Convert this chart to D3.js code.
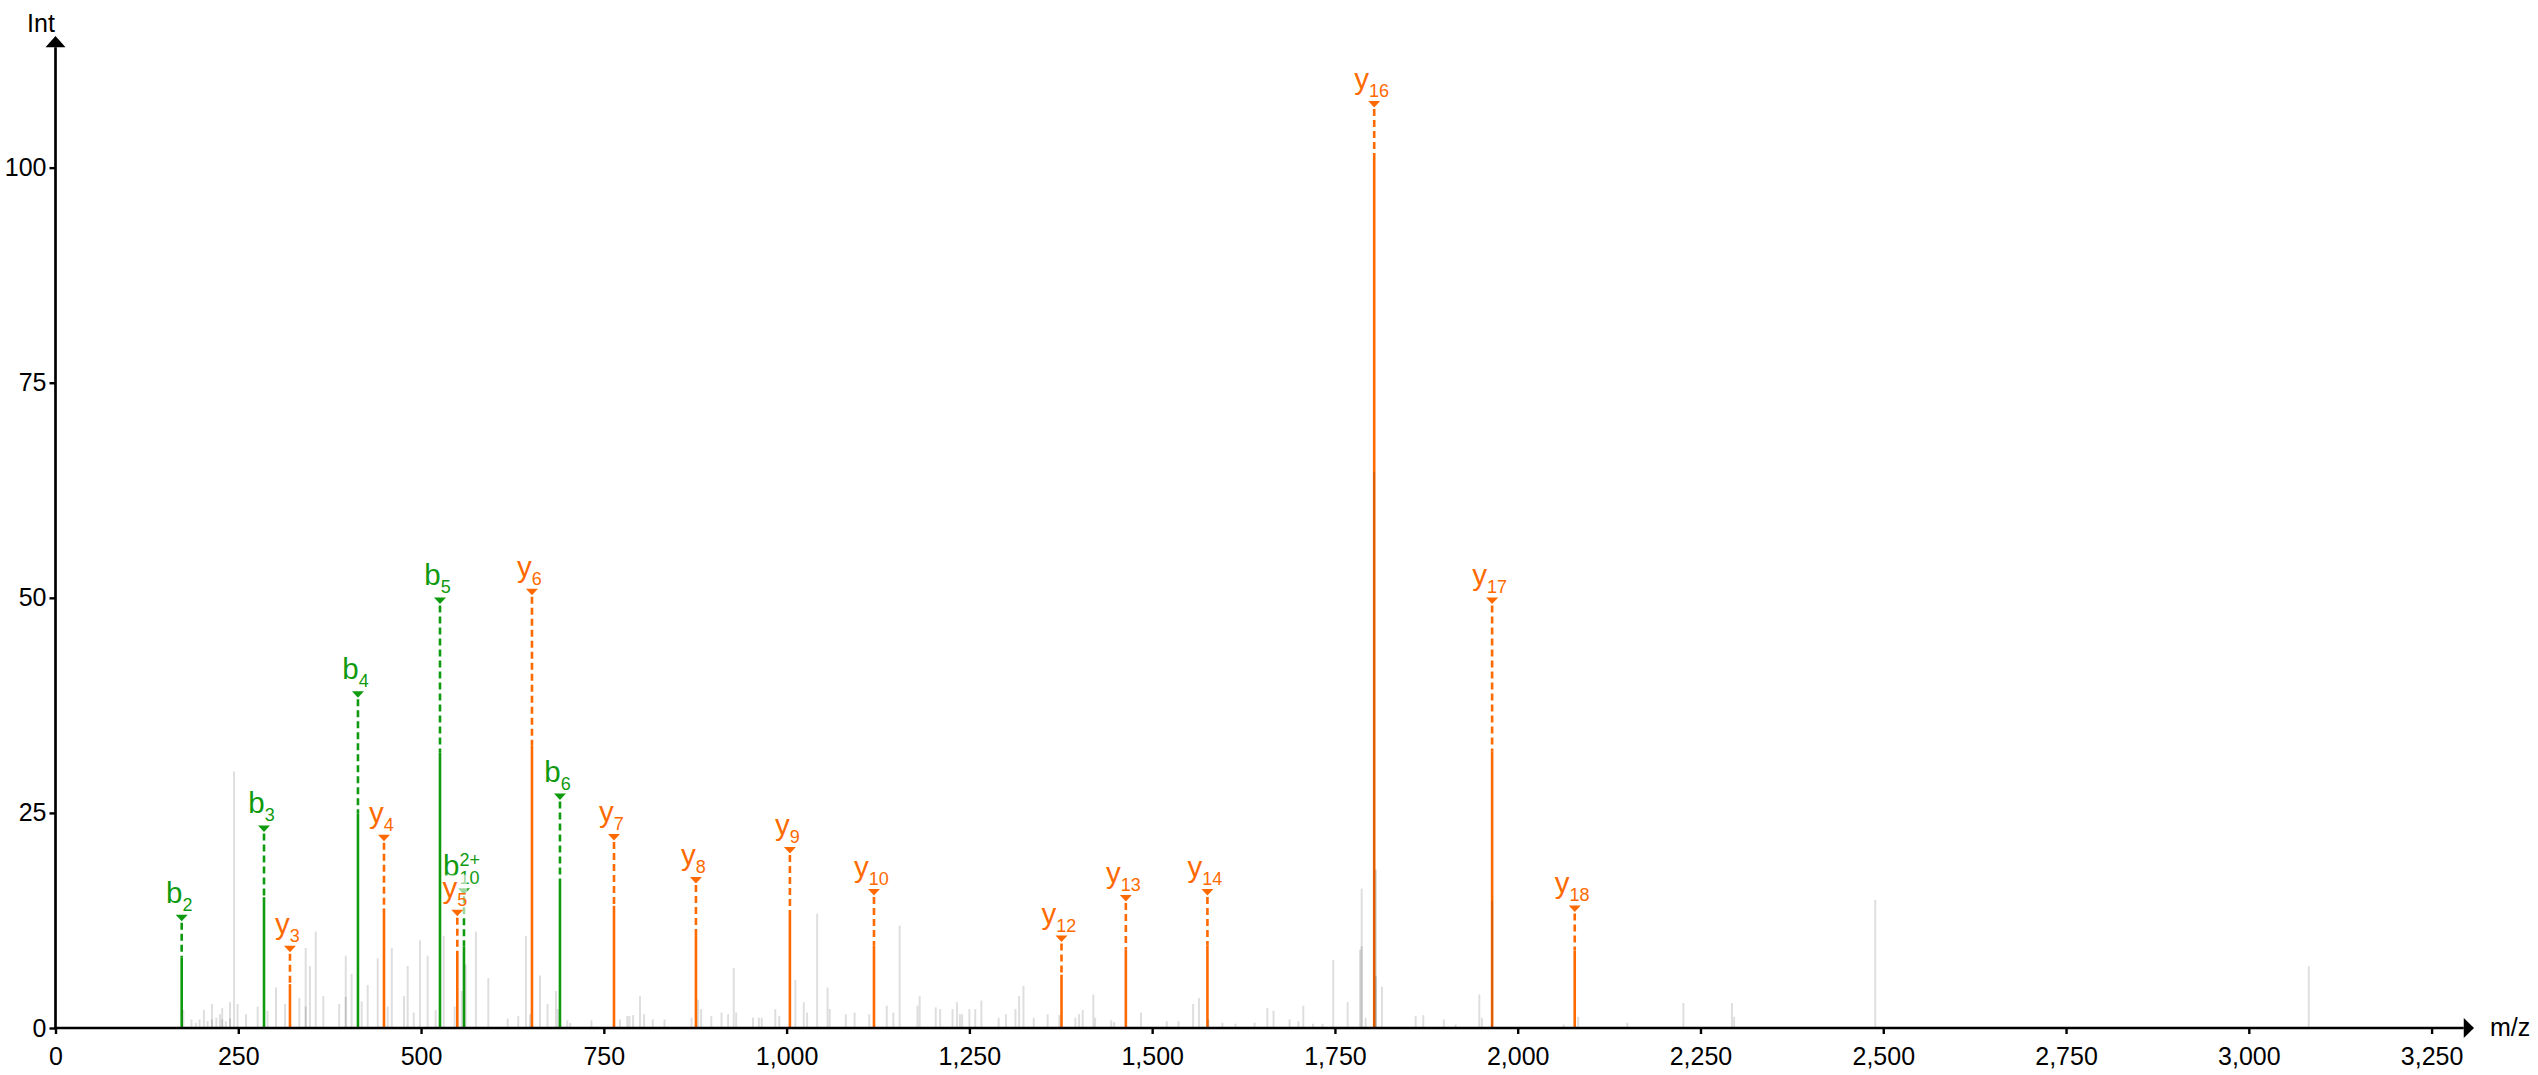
<!DOCTYPE html>
<html>
<head>
<meta charset="utf-8">
<script src="https://cdn.jsdelivr.net/npm/d3@7"></script>
<style>
  html, body { margin: 0; padding: 0; background: #fff; }
  svg { display: block; font-family: "Liberation Sans", Arial, Helvetica, sans-serif; }
</style>
</head>
<body>
<svg id="chart" width="2538" height="1075"></svg>
<script>
// ---------- data ----------
const xTicks = [0, 250, 500, 750, 1000, 1250, 1500, 1750, 2000, 2250, 2500, 2750, 3000, 3250];
const yTicks = [0, 25, 50, 75, 100];
const xAxisMax = 3308;   // m/z where the x axis arrow ends
const yAxisMax = 115.3;  // intensity where the y axis arrow ends
const xTitle = "m/z";
const yTitle = "Int";

// b ions: [ion, number, charge, m/z, intensity, label height]
const bIons = [
  ["b", "2", "", 172.6, 8.2, 12.8],
  ["b", "3", "", 285.2, 15.2, 23.2],
  ["b", "4", "", 413.7, 24.9, 38.8],
  ["b", "5", "", 525.9, 32.0, 49.7],
  ["b", "6", "", 690.0, 17.2, 26.9],
  ["b", "10", "2+", 558.7, 9.5, 15.9]
];
// y ions: [ion, number, charge, m/z, intensity, label height]
const yIons = [
  ["y", "3", "", 320.7, 5.1, 9.2],
  ["y", "4", "", 449.3, 13.9, 22.1],
  ["y", "5", "", 549.6, 8.6, 13.4],
  ["y", "6", "", 651.7, 32.8, 50.7],
  ["y", "7", "", 763.9, 14.2, 22.2],
  ["y", "8", "", 876.0, 10.8, 17.2],
  ["y", "9", "", 1004.5, 12.9, 20.7],
  ["y", "10", "", 1119.5, 9.6, 15.8],
  ["y", "12", "", 1376.0, 6.2, 10.4],
  ["y", "13", "", 1464.0, 9.1, 15.1],
  ["y", "14", "", 1575.6, 9.6, 15.8],
  ["y", "16", "", 1803.7, 101.0, 107.4],
  ["y", "17", "", 1965.0, 32.1, 49.7],
  ["y", "18", "", 2078.0, 9.0, 13.9]
];
// unannotated peaks: [m/z, intensity]
const otherPeaks = [
  [174.9,2.1],[186,1.0],[192,0.6],[197,1.0],[203,2.1],[208,0.8],[214,2.8],[214,1.0],[220,1.2],[225,1.6],[228,2.3],[228,1.0],
  [233,0.8],[238.7,3.0],[238.7,1.1],[244.2,29.8],[249,2.8],[260.6,1.6],[276.5,2.5],[290,2.0],[301.6,4.7],[314,2.8],
  [333.5,3.5],[342.2,9.3],[342.2,2.5],[348,7.2],[355.9,11.2],[366.3,3.7],[388,2.8],[397,8.4],[397,3.6],[405,6.3],
  [418.8,3.1],[427,5.0],[440.7,8.1],[454.4,2.5],[460,9.3],[476.7,3.7],[481.7,7.2],[490,1.8],[498.5,10.2],[509,8.4],
  [520,2.1],[531,10.7],[546,2.5],[555.6,4.3],[561,7.4],[575,11.2],[592,5.8],[618.5,1.1],[633,1.4],[643.5,10.7],
  [649,1.6],[662.7,6.1],[673,2.8],[684.5,4.3],[687,2.2],[700,0.9],[704,0.6],[733,0.9],[772,1.0],[782,1.4],[785,1.4],
  [790,1.5],[799.5,3.7],[805,1.6],[817,1.0],[833,1.0],[870,1.2],[879,3.3],[883,2.2],[897,1.4],[911,1.8],[920,1.6],
  [927.7,7.0],[931,1.8],[954,1.2],[962,1.2],[966,1.2],[984.5,2.2],[990,1.4],[1012,5.6],[1023.5,3.0],[1028,1.8],
  [1041.8,13.3],[1056,4.7],[1059,2.2],[1081,1.6],[1093,1.8],[1113,1.6],[1137,2.6],[1146,1.8],[1154.6,11.9],[1179,2.6],
  [1182,3.7],[1204,2.4],[1210,2.2],[1227,2.2],[1233,3.0],[1237,1.6],[1240,1.6],[1250,2.2],[1258,2.2],[1266.4,3.2],
  [1290,1.2],[1300,1.6],[1313,2.2],[1318,3.7],[1324,4.9],[1338,1.2],[1357,1.6],[1373,1.5],[1395,1.2],[1400,1.6],
  [1405,2.1],[1419.5,3.9],[1422,1.2],[1444,0.9],[1448,0.7],[1484.7,1.8],[1520,0.8],[1536,0.8],[1556,2.8],[1564,3.5],
  [1577,1.0],[1596,0.6],[1614,0.5],[1640,0.6],[1657.5,2.3],[1666,2.0],[1688,1.0],[1700,0.8],[1706.7,2.6],[1720,0.5],
  [1733,0.5],[1747.7,7.9],[1767.4,3.0],[1784.3,9.1],[1786.6,16.2],[1786.6,9.5],[1792,1.2],[1803.7,64.6],[1806.1,18.4],
  [1806.1,6.0],[1814.3,4.8],[1860.4,1.4],[1870.8,1.5],[1899,1.0],[1915,0.4],[1947.5,3.9],[1951,1.2],[1965,14.8],
  [2063,0.4],[2082.7,1.3],[2150,0.6],[2226.6,2.9],[2293,2.9],[2296,1.3],[2489,14.9],[3082,7.2]
];

const bColor = "#109a10";
const yColor = "#ff6a00";

// ---------- drawing ----------
const svg = d3.select("#chart");
const x = d3.scaleLinear().domain([0, xAxisMax]).range([55.5, 2474]);
const y = d3.scaleLinear().domain([0, yAxisMax]).range([1028, 36]);

const peaksLayer = svg.append("g");
const greyLayer = svg.append("g");
const axisLayer = svg.append("g");

function drawIon(d, color) {
  const [ion, num, charge, mz, inten, lab] = d;
  const g = peaksLayer.append("g");
  const px = x(mz);
  const c = y(lab);
  g.append("line")
    .attr("x1", px).attr("x2", px)
    .attr("y1", y(0)).attr("y2", y(inten))
    .attr("stroke", color).attr("stroke-width", 2.6);
  g.append("line")
    .attr("x1", px).attr("x2", px)
    .attr("y1", c + 5).attr("y2", y(inten))
    .attr("stroke", color).attr("stroke-width", 2.6)
    .attr("stroke-dasharray", "7,4");
  const lg = g.append("g");
  const box = lg.append("rect").attr("fill", "#fff").attr("opacity", 0.6);
  lg.append("path")
    .attr("d", `M${px - 6},${c - 3}L${px + 6},${c - 3}L${px},${c + 3.5}Z`)
    .attr("fill", color);
  const base = c - 15;
  const t = lg.append("text").attr("y", base).attr("font-size", 29.5).attr("fill", color).text(ion);
  const wMain = t.node().getComputedTextLength();
  const sub = lg.append("text").attr("y", base + 8).attr("font-size", 18).attr("fill", color).text(num);
  const wSub = sub.node().getComputedTextLength();
  let sup = null, wSup = 0;
  if (charge) {
    sup = lg.append("text").attr("y", base - 10).attr("font-size", 18).attr("fill", color).text(charge);
    wSup = sup.node().getComputedTextLength();
  }
  const total = wMain + Math.max(wSub, wSup);
  const x0 = px - total / 2 - 2.5;
  t.attr("x", x0);
  sub.attr("x", x0 + wMain);
  if (sup) sup.attr("x", x0 + wMain);
  const bb = lg.node().getBBox();
  box.attr("x", bb.x).attr("y", bb.y + 4).attr("width", bb.width).attr("height", bb.height - 4);
}

bIons.forEach(d => drawIon(d, bColor));
yIons.forEach(d => drawIon(d, yColor));

greyLayer.selectAll("line").data(otherPeaks).join("line")
  .attr("x1", d => x(d[0])).attr("x2", d => x(d[0]))
  .attr("y1", y(0)).attr("y2", d => y(d[1]))
  .attr("stroke", "rgba(0,0,0,0.13)").attr("stroke-width", 2);

// x axis
const xAxis = axisLayer.append("g").attr("transform", `translate(0,${y(0)})`)
  .call(d3.axisBottom(x).tickValues(xTicks).tickSize(6).tickFormat(d3.format(",")));
xAxis.select(".domain").remove();
xAxis.selectAll(".tick line").attr("stroke", "#000").attr("stroke-width", 2.4);
xAxis.selectAll(".tick text").attr("y", 37).attr("dy", 0)
  .attr("font-size", 25).attr("fill", "#000").attr("font-family", null);
axisLayer.append("line")
  .attr("x1", x(0) - 1.3).attr("x2", x(3294)).attr("y1", y(0)).attr("y2", y(0))
  .attr("stroke", "#000").attr("stroke-width", 2.7);
axisLayer.append("path")
  .attr("d", `M${x(3294)},${y(0) - 10}L${x(xAxisMax)},${y(0)}L${x(3294)},${y(0) + 10}Z`)
  .attr("fill", "#000");
axisLayer.append("text").attr("x", 2490).attr("y", y(0) + 8)
  .attr("font-size", 25).attr("fill", "#000").text(xTitle);

// y axis
const yAxis = axisLayer.append("g").attr("transform", `translate(${x(0)},0)`)
  .call(d3.axisLeft(y).tickValues(yTicks).tickSize(6).tickPadding(3));
yAxis.select(".domain").remove();
yAxis.selectAll(".tick line").attr("stroke", "#000").attr("stroke-width", 2.4);
yAxis.selectAll(".tick text").attr("font-size", 25).attr("fill", "#000").attr("font-family", null);
axisLayer.append("line")
  .attr("x1", x(0)).attr("x2", x(0)).attr("y1", y(0) + 1.3).attr("y2", y(114))
  .attr("stroke", "#000").attr("stroke-width", 2.7);
axisLayer.append("path")
  .attr("d", `M${x(0) - 10},${y(114)}L${x(0)},${y(yAxisMax)}L${x(0) + 10},${y(114)}Z`)
  .attr("fill", "#000");
axisLayer.append("text").attr("x", 41).attr("y", 32).attr("text-anchor", "middle")
  .attr("font-size", 25).attr("fill", "#000").text(yTitle);
</script>
</body>
</html>
